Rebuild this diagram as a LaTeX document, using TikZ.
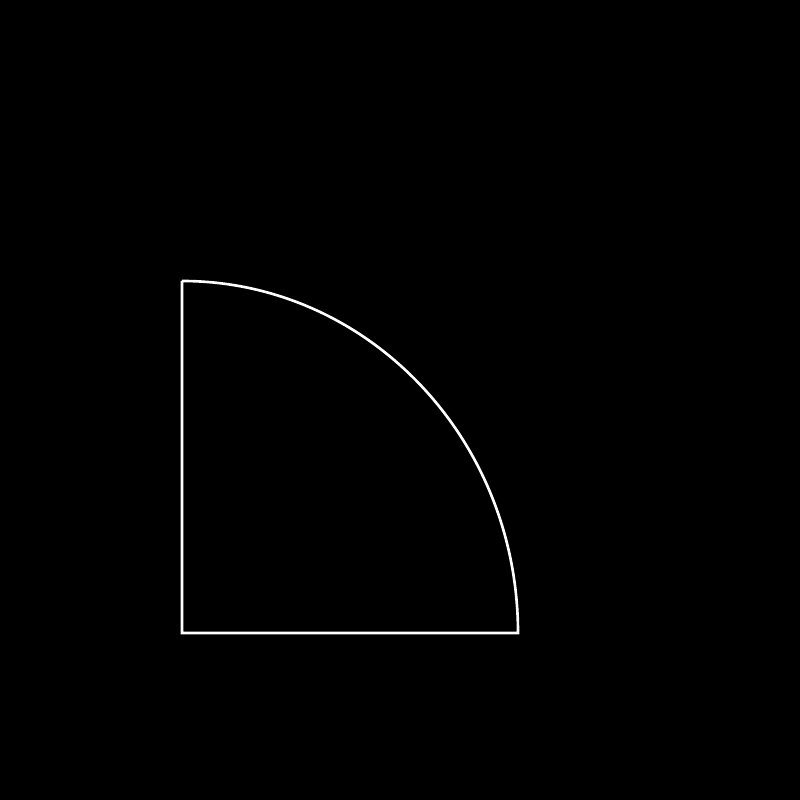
\documentclass[tikz,border=0pt]{standalone}
\usepackage{tikz}

\begin{document}
\begin{tikzpicture}[
    edge/.style={draw=white, line width=0.75pt, line join=miter}
]
\fill[black] (0,0) rectangle (8,8);
\useasboundingbox (0,0) rectangle (8,8);

\coordinate (o) at (1.82,1.67);
\coordinate (top) at (1.82,5.19);
\coordinate (rgt) at (5.18,1.67);

% quarter of an ellipse
\draw[edge] (top) -- (o) -- (rgt) arc[start angle=0, end angle=90, x radius=3.36cm, y radius=3.52cm] -- cycle;
\end{tikzpicture}
\end{document}
